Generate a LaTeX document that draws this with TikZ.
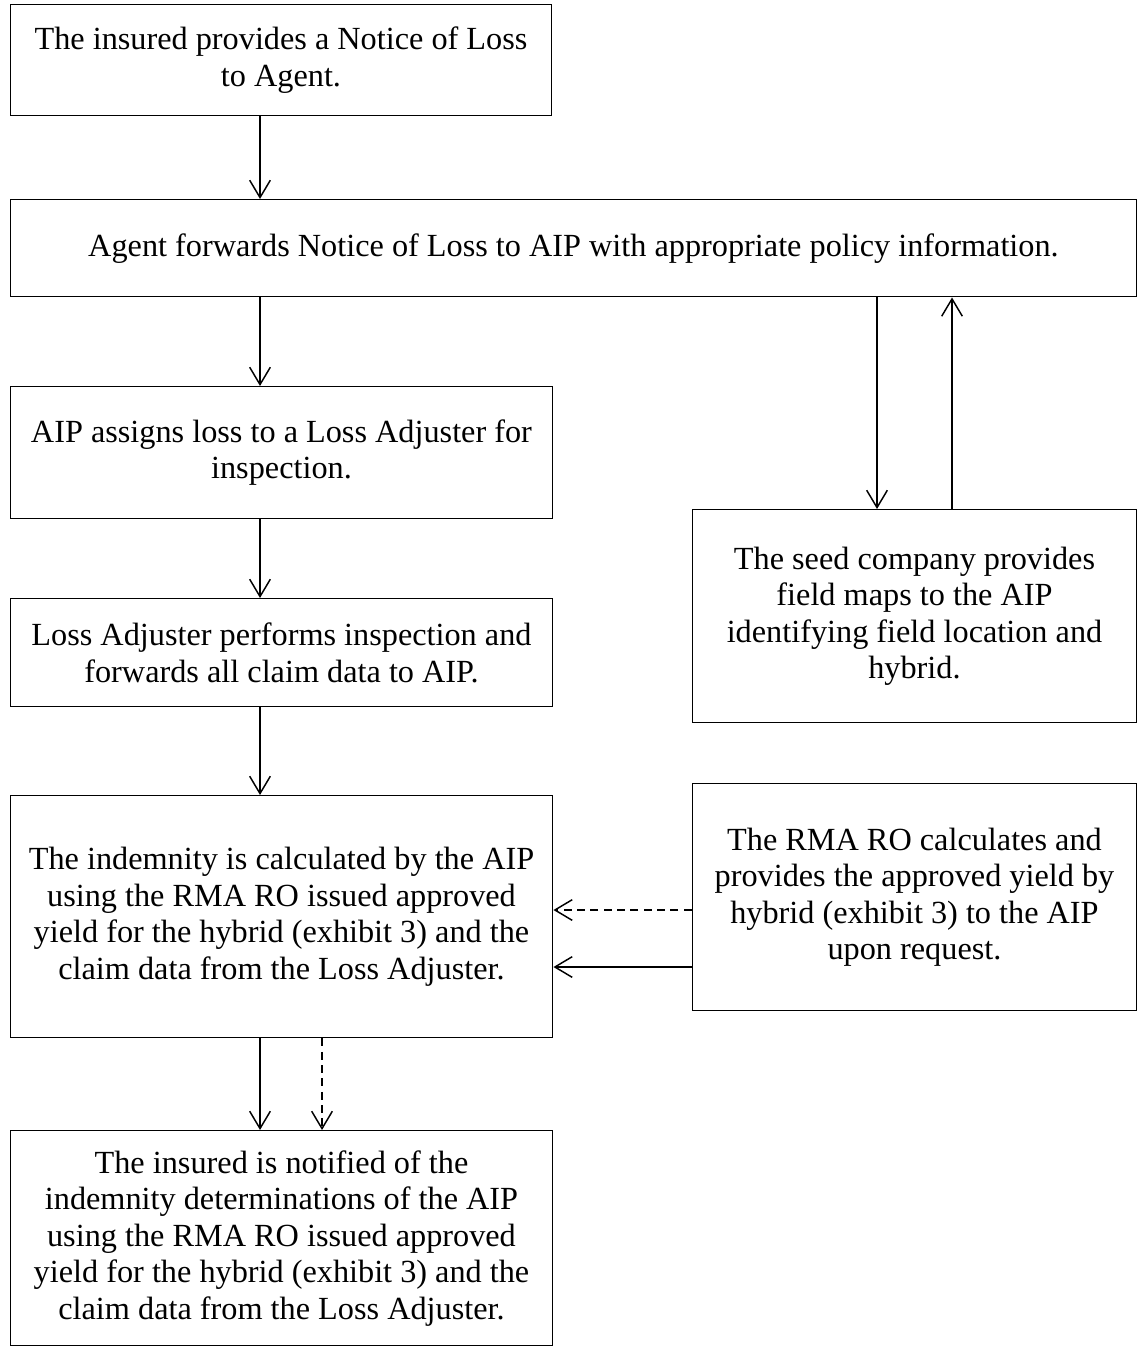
\documentclass[tikz,border=0pt]{standalone}
\usepackage{fontspec}
\setmainfont{Liberation Serif}
\usetikzlibrary{arrows.meta}
\begin{document}
\begin{tikzpicture}[x=0.75pt,y=-0.75pt,
  box/.style={draw, line width=1.1pt, anchor=north west, align=center, inner sep=0pt,
    font=\fontsize{24.2}{27.4}\selectfont},
  conn/.style={line width=1.1pt, -{Straight Barb[length=13pt,width=15.5pt,line width=1.1pt]}},
  dashedconn/.style={conn, dash pattern=on 6pt off 4pt}]
\useasboundingbox (0,0) rectangle (1137,1348);
\node[box, minimum width={541.5*0.75pt}, minimum height={111*0.75pt}] (A) at (9.5,4)
  {The insured provides a Notice of Loss\\to Agent.};
\node[box, minimum width={1126.5*0.75pt}, minimum height={97*0.75pt}] (B) at (9.5,199)
  {Agent forwards Notice of Loss to AIP with appropriate policy information.};
\node[box, minimum width={542.5*0.75pt}, minimum height={132*0.75pt}] (C) at (9.5,386)
  {AIP assigns loss to a Loss Adjuster for\\inspection.};
\node[box, minimum width={542.5*0.75pt}, minimum height={108*0.75pt}] (D) at (9.5,598)
  {Loss Adjuster performs inspection and\\forwards all claim data to AIP.};
\node[box, minimum width={542.5*0.75pt}, minimum height={242*0.75pt}] (E) at (9.5,795)
  {The indemnity is calculated by the AIP\\using the RMA RO issued approved\\yield for the hybrid (exhibit 3) and the\\claim data from the Loss Adjuster.};
\node[box, minimum width={542.5*0.75pt}, minimum height={215*0.75pt}] (F) at (9.5,1130)
  {The insured is notified of the\\indemnity determinations of the AIP\\using the RMA RO issued approved\\yield for the hybrid (exhibit 3) and the\\claim data from the Loss Adjuster.};
\node[box, minimum width={444.5*0.75pt}, minimum height={213*0.75pt}] (G) at (691.5,509)
  {The seed company provides\\field maps to the AIP\\identifying field location and\\hybrid.};
\node[box, minimum width={444.5*0.75pt}, minimum height={227*0.75pt}] (H) at (691.5,783)
  {The RMA RO calculates and\\provides the approved yield by\\hybrid (exhibit 3) to the AIP\\upon request.};
\coordinate (cx) at (260,0);
\coordinate (dx) at (322,0);
\coordinate (gx1) at (877,0);
\coordinate (gx2) at (952,0);
\coordinate (hy1) at (0,910);
\coordinate (hy2) at (0,967);
\draw[conn] (A.south -| cx) -- (B.north -| cx);
\draw[conn] (B.south -| cx) -- (C.north -| cx);
\draw[conn] (C.south -| cx) -- (D.north -| cx);
\draw[conn] (D.south -| cx) -- (E.north -| cx);
\draw[conn] (E.south -| cx) -- (F.north -| cx);
\draw[dashedconn] (E.south -| dx) -- (F.north -| dx);
\draw[conn] (B.south -| gx1) -- (G.north -| gx1);
\draw[conn] (G.north -| gx2) -- (B.south -| gx2);
\draw[dashedconn] (H.west |- hy1) -- (E.east |- hy1);
\draw[conn] (H.west |- hy2) -- (E.east |- hy2);
\end{tikzpicture}
\end{document}
